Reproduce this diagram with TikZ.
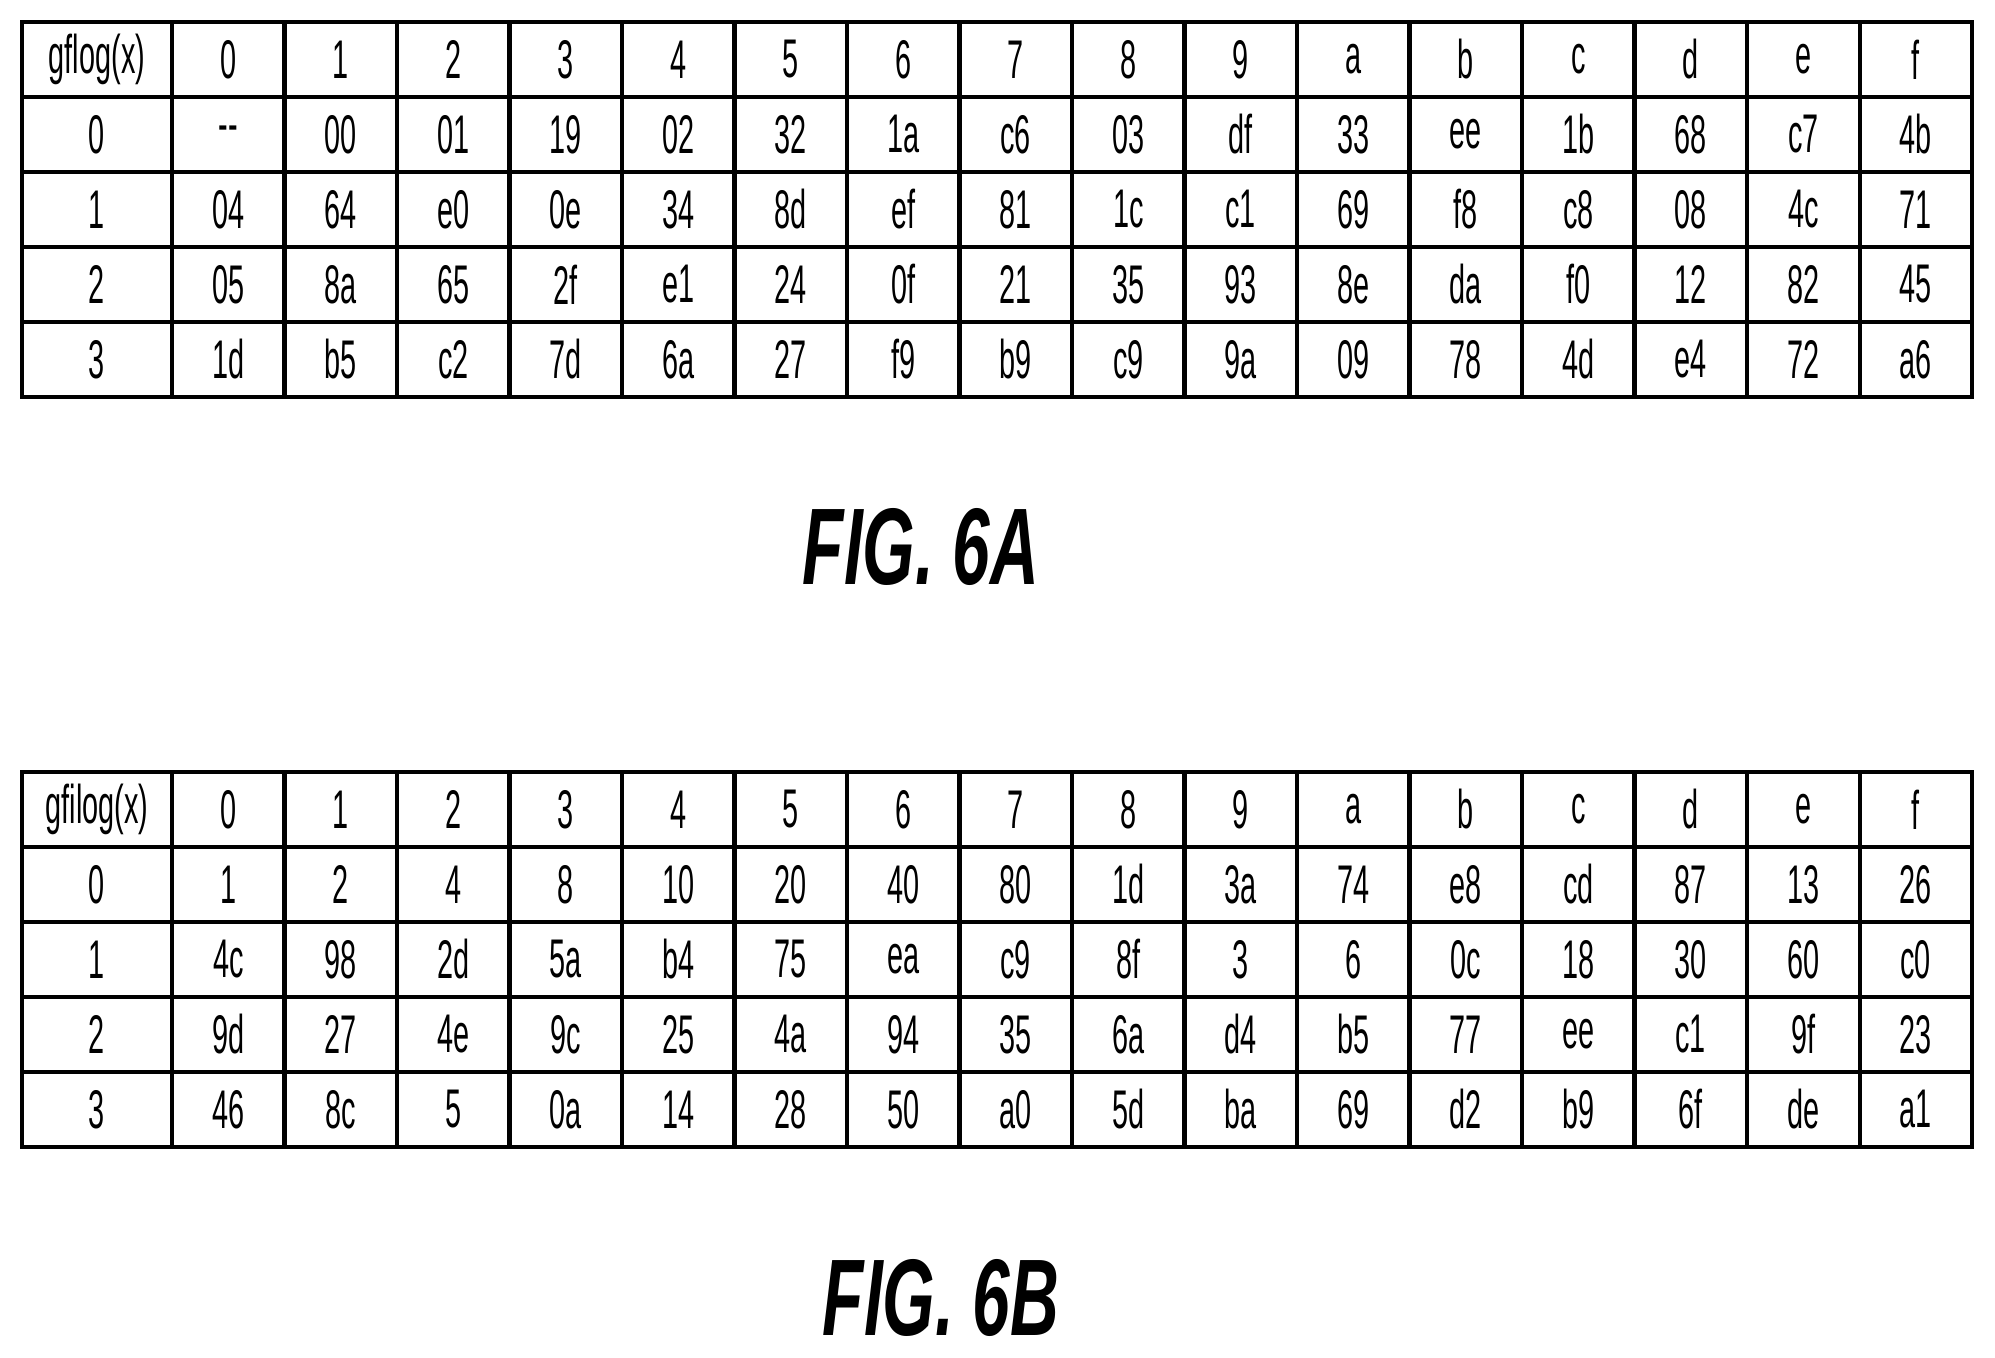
\documentclass[tikz,border=0pt]{standalone}
\usepackage{fontspec}
\setmainfont{Liberation Sans}
\usetikzlibrary{positioning}
\tikzset{
   grid/.style={line width=2.3pt},
   cell/.style={font=\fontsize{31}{31}\selectfont, xscale=0.53, inner sep=0pt},
   figlabel/.style={font=\fontsize{62}{62}\selectfont\bfseries\itshape, xscale=0.62, inner sep=0pt},
}
\begin{document}
\begin{tikzpicture}[x=0.02cm,y=-0.02cm]
  \useasboundingbox (0,0) rectangle (1995,1357);
  \fill[white] (0,0) rectangle (1995,1357);
  % table A at 22, table B at 772
  \foreach \top/\name/\rows/\tag in {
      22/gflog(x)/{{-{}-,00,01,19,02,32,1a,c6,03,df,33,ee,1b,68,c7,4b},{04,64,e0,0e,34,8d,ef,81,1c,c1,69,f8,c8,08,4c,71},{05,8a,65,2f,e1,24,0f,21,35,93,8e,da,f0,12,82,45},{1d,b5,c2,7d,6a,27,f9,b9,c9,9a,09,78,4d,e4,72,a6}}/A,
      772/gfilog(x)/{{1,2,4,8,10,20,40,80,1d,3a,74,e8,cd,87,13,26},{4c,98,2d,5a,b4,75,ea,c9,8f,3,6,0c,18,30,60,c0},{9d,27,4e,9c,25,4a,94,35,6a,d4,b5,77,ee,c1,9f,23},{46,8c,5,0a,14,28,50,a0,5d,ba,69,d2,b9,6f,de,a1}}/B} {
    \draw[grid] (22,\top) rectangle (1972,\top+375);
    \foreach \r in {1,...,4} \draw[grid] (22,\top+75*\r) -- (1972,\top+75*\r);
    \draw[grid] (172,\top) -- (172,\top+375);
    \foreach \c in {1,...,15} \draw[grid] (172+112.5*\c,\top) -- (172+112.5*\c,\top+375);
    \node[cell] (head\tag) at (97,\top+37.5) {\name};
    \foreach \h [count=\c from 0] in {0,1,2,3,4,5,6,7,8,9,a,b,c,d,e,f}
      \node[cell] (col\tag\c) at (228.25+112.5*\c,\top+37.5) {\h};
    \foreach \row [count=\r from 0] in \rows {
      \node[cell] (row\tag\r) at (97,\top+112.5+75*\r) {\r};
      \foreach \v [count=\c from 0] in \row
        \node[cell] (v\tag\r\c) at (228.25+112.5*\c,\top+112.5+75*\r) {\v};
    }
  }
  \node[figlabel] (figA) at (921,547) {FIG. 6A};
  \node[figlabel] (figB) at (941,1298) {FIG. 6B};
\end{tikzpicture}
\end{document}
